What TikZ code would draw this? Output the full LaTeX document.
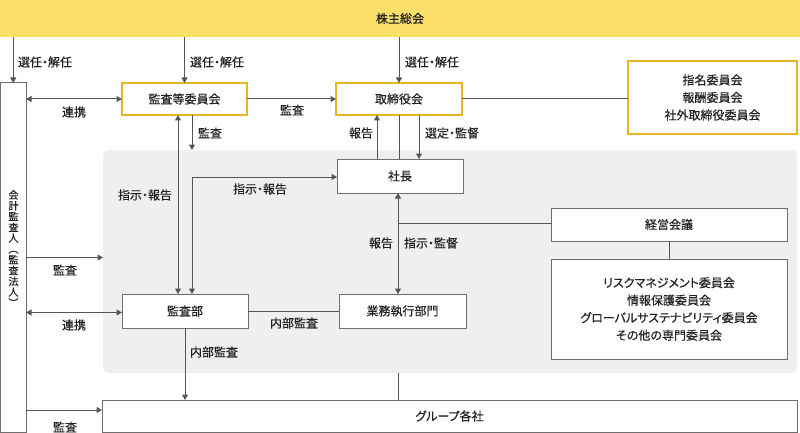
\documentclass[tikz,border=0pt]{standalone}
\usepackage{fontspec}
\setmainfont[RawFeature={+palt}, FakeBold=0.35]{Noto Sans CJK JP}
\newfontfamily\vertfont[FakeBold=0.35]{Noto Sans CJK JP}
\usetikzlibrary{arrows.meta}
\definecolor{ybar}{HTML}{FBDF68}
\definecolor{yline}{HTML}{E9B526}
\definecolor{bggray}{HTML}{EEEFF1}
\definecolor{ln}{HTML}{555555}
\definecolor{bx}{HTML}{6E6E6E}
\definecolor{tx}{HTML}{222222}
\begin{document}
\begin{tikzpicture}[x=1pt,y=-1pt,
  every node/.style={text=tx, font=\fontsize{12}{17.5}\selectfont, inner sep=0pt, outer sep=0pt, align=center},
  wbox/.style={draw=bx, line width=1pt, fill=white},
  ybox/.style={draw=yline, line width=1.8pt, fill=white},
  arr/.style={draw=ln, line width=1pt, -{Triangle[length=5.5pt,width=6pt]}},
  arrtwo/.style={draw=ln, line width=1pt, {Triangle[length=5.5pt,width=6pt]}-{Triangle[length=5.5pt,width=6pt]}},
  plain/.style={draw=ln, line width=1pt},
  lbl/.style={}]
\useasboundingbox (0,0) rectangle (800,433);
% background areas
\node[fill=ybar, minimum width=800pt, minimum height=37pt] (top) at (400,18.5) {株主総会};
\node[fill=bggray, rounded corners=5pt, minimum width=694pt, minimum height=223pt] (bg) at (450,261.5) {};

% boxes
\node[wbox, minimum width=25.5pt, minimum height=349pt] (kaikei) at (13.25,257.5) {};
\node[font=\vertfont\fontsize{10.2}{10.8}\selectfont] (kaikeitxt) at (13.5,248.5) {会\\計\\監\\査\\人\\︵\\監\\査\\法\\人\\︶};
\node[ybox, minimum width=125pt, minimum height=32pt] (kansaiin) at (184.5,99) {監査等委員会};
\node[ybox, minimum width=126pt, minimum height=32pt] (tori) at (399,99) {取締役会};
\node[ybox, minimum width=169pt, minimum height=73pt] (iinkai) at (712.5,97.5) {指名委員会\\報酬委員会\\社外取締役委員会};
\node[wbox, minimum width=126pt, minimum height=34pt] (shacho) at (400,176) {社長};
\node[wbox, minimum width=236pt, minimum height=33pt] (keiei) at (669,224.5) {経営会議};
\node[wbox, minimum width=236pt, minimum height=100pt] (senmon) at (669,309) {リスクマネジメント委員会\\情報保護委員会\\グローバルサステナビリティ委員会\\その他の専門委員会};
\node[wbox, minimum width=127pt, minimum height=34pt] (gyomu) at (402.5,311) {業務執行部門};
\node[wbox, minimum width=126pt, minimum height=34pt] (kansabu) at (185,311) {監査部};
\node[wbox, minimum width=695pt, minimum height=32pt] (group) at (449.5,416) {グループ各社};

% helper coordinates
\coordinate (sx) at ([xshift=-2pt]shacho.south);
\coordinate (gl) at ([yshift=6pt]group.west);

% connectors
\draw[arr] (kaikei.north |- top.south) -- (kaikei.north);
\draw[arr] (kansaiin.north |- top.south) -- (kansaiin.north);
\draw[arr] (tori.north |- top.south) -- (tori.north);
\draw[arrtwo] (kaikei.east |- kansaiin.west) -- (kansaiin.west);
\draw[arr] (kansaiin.east) -- (tori.west);
\draw[plain] (tori.east) -- (tori.east -| iinkai.west);
\draw[arr] ([xshift=7.5pt]kansaiin.south) -- ([xshift=7.5pt]kansaiin.south |- bg.north);
\draw[arrtwo] ([xshift=-6.5pt]kansaiin.south) -- ([xshift=-6.5pt]kansaiin.south |- kansabu.north);
\draw[arrtwo] ([yshift=-1pt]shacho.west) -| ([xshift=7pt]kansabu.north);
\draw[arr] ([xshift=-23pt]shacho.north) -- ([xshift=-23pt]shacho.north |- tori.south);
\draw[plain] (tori.south) -- (tori.south |- shacho.north);
\draw[arr] ([xshift=20pt]tori.south) -- ([xshift=20pt]tori.south |- shacho.north);
\draw[arrtwo] (sx) -- (sx |- gyomu.north);
\draw[plain] ([yshift=1.5pt]keiei.west) -- ([yshift=1.5pt]keiei.west -| sx);
\draw[plain] (keiei.south) -- (senmon.north);
\draw[plain] (kansabu.east) -- (gyomu.west);
\draw[arr] (kaikei.east) -- (kaikei.east -| bg.west);
\draw[arrtwo] ([yshift=-1.5pt]kaikei.east |- kansabu.west) -- ([yshift=-1.5pt]kansabu.west);
\draw[arr] (kansabu.south) -- (kansabu.south |- group.north);
\draw[plain] (sx |- bg.south) -- (sx |- group.north);
\draw[arr] (kaikei.east |- gl) -- (gl);

% labels
\node[lbl] (l1) at (45,62) {選任・解任};
\node[lbl] (l2) at (217,62) {選任・解任};
\node[lbl] (l3) at (432,62) {選任・解任};
\node[lbl] (l4) at (74,112) {連携};
\node[lbl] (l5) at (292,110) {監査};
\node[lbl] (l6) at (210,133) {監査};
\node[lbl] (l7) at (361,133) {報告};
\node[lbl] (l8) at (452,133) {選定・監督};
\node[lbl] (l9) at (145,195) {指示・報告};
\node[lbl] (l10) at (260,189) {指示・報告};
\node[lbl] (l11) at (381,243) {報告};
\node[lbl] (l12) at (431,243) {指示・監督};
\node[lbl] (l13) at (65,270) {監査};
\node[lbl] (l14) at (74,325) {連携};
\node[lbl] (l15) at (294,323) {内部監査};
\node[lbl] (l16) at (214,352) {内部監査};
\node[lbl] (l17) at (65,427) {監査};
\end{tikzpicture}
\end{document}
